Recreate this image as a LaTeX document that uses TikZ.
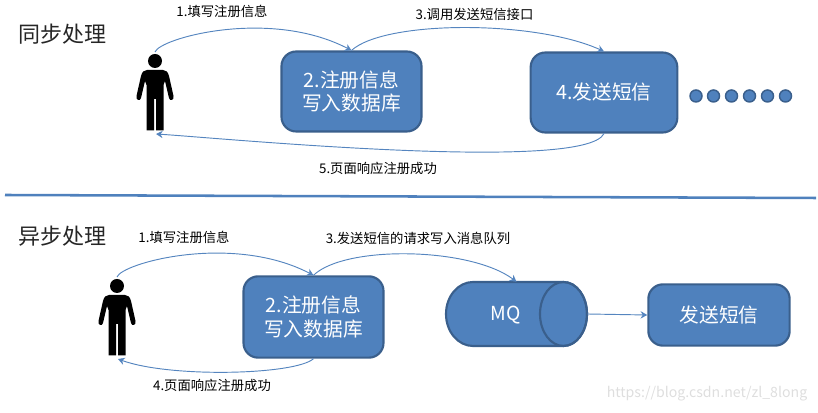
\documentclass[tikz,border=0pt]{standalone}
\usepackage{fontspec}
\setmainfont{Noto Sans CJK SC}
\usetikzlibrary{arrows.meta}
\definecolor{fillblue}{HTML}{4F81BD}
\definecolor{edgeblue}{HTML}{3A5F8C}
\definecolor{arrowblue}{HTML}{5585BF}
\tikzset{
  x=0.75pt,y=0.75pt,
  bluebox/.style={draw=edgeblue,fill=fillblue,line width=1.6pt,rounded corners=11pt,text=white,font=\fontsize{14.8}{17.5}\selectfont,align=center,inner sep=0pt},
  smalllabel/.style={font=\fontsize{10}{12}\selectfont,text=black,inner sep=0pt},
  titlelabel/.style={font=\fontsize{16.5}{20}\selectfont,text=black!85,inner sep=0pt},
  flow/.style={draw=arrowblue,line width=0.7pt,-{Stealth[length=5pt,width=5.5pt]}},
  dotmark/.style={circle,draw=edgeblue,fill=fillblue,line width=1.1pt,minimum size=9pt,inner sep=0pt},
  person/.pic={
    \fill[black] (0,0) circle[radius=7];
    \fill[black] (-8,-9) -- (8,-9) .. controls (11,-9) and (13,-11) .. (14,-15) -- (18.5,-35)
      .. controls (19.5,-39) and (15,-41) .. (14,-37) -- (10,-20) -- (8.5,-24) -- (8.5,-69.5) -- (1,-69.5) -- (1,-38)
      -- (-1,-38) -- (-1,-69.5) -- (-8.5,-69.5) -- (-8.5,-24) -- (-10,-20) -- (-14,-37)
      .. controls (-15,-41) and (-19.5,-39) .. (-18.5,-35) -- (-14,-15) .. controls (-13,-11) and (-11,-9) .. (-8,-9) -- cycle;
  }
}
\begin{document}
\begin{tikzpicture}
\useasboundingbox (0,0) rectangle (818,413);
% titles
\node[titlelabel] (t1) at (62,379) {同步处理};
\node[titlelabel] (t2) at (62,177) {异步处理};
% divider
\coordinate (divl) at (5,218);
\coordinate (divr) at (816,215);
\draw[draw=fillblue,line width=1.9pt] (divl) -- (divr);
% people
\pic at (155,352) {person};
\pic at (117,127) {person};
\coordinate (p1top) at (155,361);
\coordinate (p1bot) at (156,279);
\coordinate (p2top) at (117,136);
\coordinate (p2bot) at (118,54);
% upper boxes
\node[bluebox,minimum width=105pt,minimum height=60pt] (reg1) at (351.5,321.5) {2.注册信息\\写入数据库};
\node[bluebox,minimum width=110pt,minimum height=60pt] (sms1) at (604,320.5) {4.发送短信};
\foreach \n/\px in {a/696,b/713.5,c/731.5,d/749.5,e/767.5,f/785.5}
  \node[dotmark] (dot\n) at (\px,317) {};
% lower boxes
\node[bluebox,minimum width=105pt,minimum height=61pt] (reg2) at (313.5,96) {2.注册信息\\写入数据库};
\node[bluebox,minimum width=106pt,minimum height=46pt] (sms2) at (719,98) {发送短信};
% cylinder
\node[minimum width=105.75pt,minimum height=48pt,inner sep=0pt] (mq) at (516.5,99) {};
\draw[draw=edgeblue,fill=fillblue,line width=1.6pt]
  (473,131) -- (563.5,131) arc[start angle=90,end angle=-90,x radius=23.5,y radius=32]
  -- (473,67) arc[start angle=270,end angle=90,x radius=27,y radius=32] -- cycle;
\draw[draw=edgeblue,line width=1.6pt] (563.5,99) ellipse[x radius=23.5,y radius=32];
\node[text=white,font=\fontsize{14.5}{16}\selectfont,inner sep=0pt] (mqtext) at (505.5,98) {MQ};
% connectors
\draw[flow] (p1top) .. controls (160,375) and (270,405) .. (reg1.north);
\draw[flow] (reg1.north) .. controls (385,393) and (535,393) .. (sms1.north);
\draw[flow] (sms1.south) .. controls (585,240) and (220,275) .. (p1bot);
\draw[flow] (p2top) .. controls (122,150) and (232,180) .. (reg2.north);
\draw[flow] (reg2.north) .. controls (345,168) and (470,166) .. (mq.north);
\draw[flow] (reg2.south) .. controls (295,38) and (170,35) .. (p2bot);
\draw[flow] (mq.east) -- (sms2.west);
% labels
\node[smalllabel] (l1) at (222,402) {1.填写注册信息};
\node[smalllabel] (l3) at (474.5,399) {3.调用发送短信接口};
\node[smalllabel] (l5) at (378,245) {5.页面响应注册成功};
\node[smalllabel] (m1) at (184,176) {1.填写注册信息};
\node[smalllabel] (m3) at (418,175) {3.发送短信的请求写入消息队列};
\node[smalllabel] (m4) at (212,28) {4.页面响应注册成功};
% watermark
\node[text=black!13,font=\fontsize{10.6}{13}\selectfont,inner sep=0pt] (wm) at (707,19) {https://blog.csdn.net/zl\_8long};
\end{tikzpicture}
\end{document}
